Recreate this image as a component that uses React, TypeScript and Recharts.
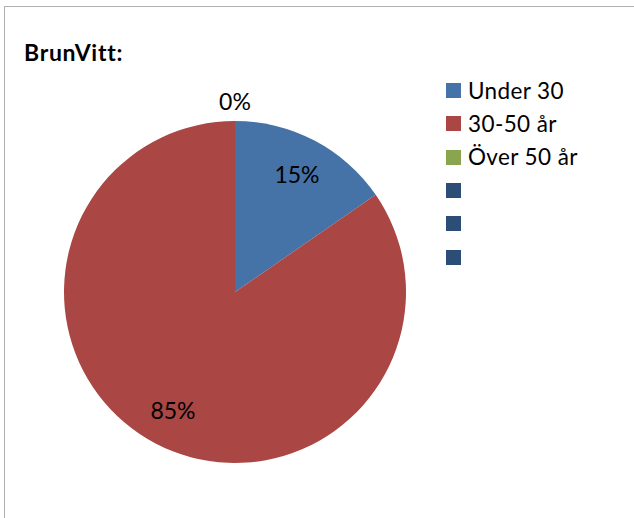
import { Cell, Legend, Pie, PieChart } from "recharts";

// Age split for the BrunVitt group. The last three legend rows are blank
// categories that Excel kept in the series, so they show as bare swatches.
const categories = ["Under 30", "30-50 år", "Över 50 år"];
const counts = [2, 11, 0];
const sliceColors = ["#4572a7", "#aa4643", "#89a54e"];

const legendNames = ["Under 30", "30-50 år", "Över 50 år", "", "", ""];
const legendColors = ["#4572a7", "#aa4643", "#89a54e", "#2c4d75", "#2c4d75", "#2c4d75"];

const data = categories.map((name, i) => ({ name, value: counts[i] }));

const FONT = "Lato, 'Open Sans', sans-serif";
const RAD = Math.PI / 180;

function PercentLabel(props: any) {
  const { cx, cy, midAngle, outerRadius, percent } = props;
  // empty slices get their label pushed just outside the rim, like Excel's best fit
  const r = percent === 0 ? outerRadius + 20 : outerRadius * 0.78;
  const x = cx + r * Math.cos(-midAngle * RAD);
  const y = cy + r * Math.sin(-midAngle * RAD);
  return (
    <text
      x={x}
      y={y}
      textAnchor="middle"
      dominantBaseline="central"
      fill="#000"
      fontSize={23}
      fontFamily={FONT}
    >
      {`${Math.round(percent * 100)}%`}
    </text>
  );
}

function SideLegend() {
  return (
    <div style={{ fontFamily: FONT, fontSize: 22.5, letterSpacing: 0.4, color: "#000" }}>
      {legendNames.map((name, i) => (
        <div key={i} style={{ display: "flex", alignItems: "center", height: 33.3 }}>
          <span
            style={{
              display: "inline-block",
              width: 15,
              height: 15,
              background: legendColors[i],
              marginRight: 7,
            }}
          />
          <span style={{ lineHeight: "22px" }}>{name}</span>
        </div>
      ))}
    </div>
  );
}

export default function App() {
  return (
    <div
      style={{
        position: "absolute",
        left: 0,
        top: 0,
        width: 634,
        height: 518,
        overflow: "hidden",
        background: "#fff",
      }}
    >
      <div
        style={{
          position: "absolute",
          left: 4,
          top: 6,
          width: 700,
          height: 600,
          borderLeft: "1.5px solid #b0b0b0",
          borderTop: "1.5px solid #b0b0b0",
        }}
      />
      <div
        style={{
          position: "absolute",
          left: 24,
          top: 38,
          fontFamily: FONT,
          fontWeight: 700,
          fontSize: 23,
          letterSpacing: 0.7,
          color: "#000",
        }}
      >
        BrunVitt:
      </div>
      <div style={{ position: "absolute", left: 0, top: 0 }}>
        <PieChart width={634} height={518} margin={{ top: 0, right: 0, bottom: 0, left: 0 }}>
          <Pie
            data={data}
            dataKey="value"
            nameKey="name"
            cx={235}
            cy={292}
            outerRadius={171}
            startAngle={90}
            endAngle={-270}
            stroke="none"
            label={PercentLabel}
            labelLine={false}
            isAnimationActive={false}
          >
            {data.map((d, i) => (
              <Cell key={d.name} fill={sliceColors[i]} />
            ))}
          </Pie>
          <Legend
            layout="vertical"
            content={() => <SideLegend />}
            wrapperStyle={{ left: 446, top: 74, width: 180 }}
          />
        </PieChart>
      </div>
    </div>
  );
}
